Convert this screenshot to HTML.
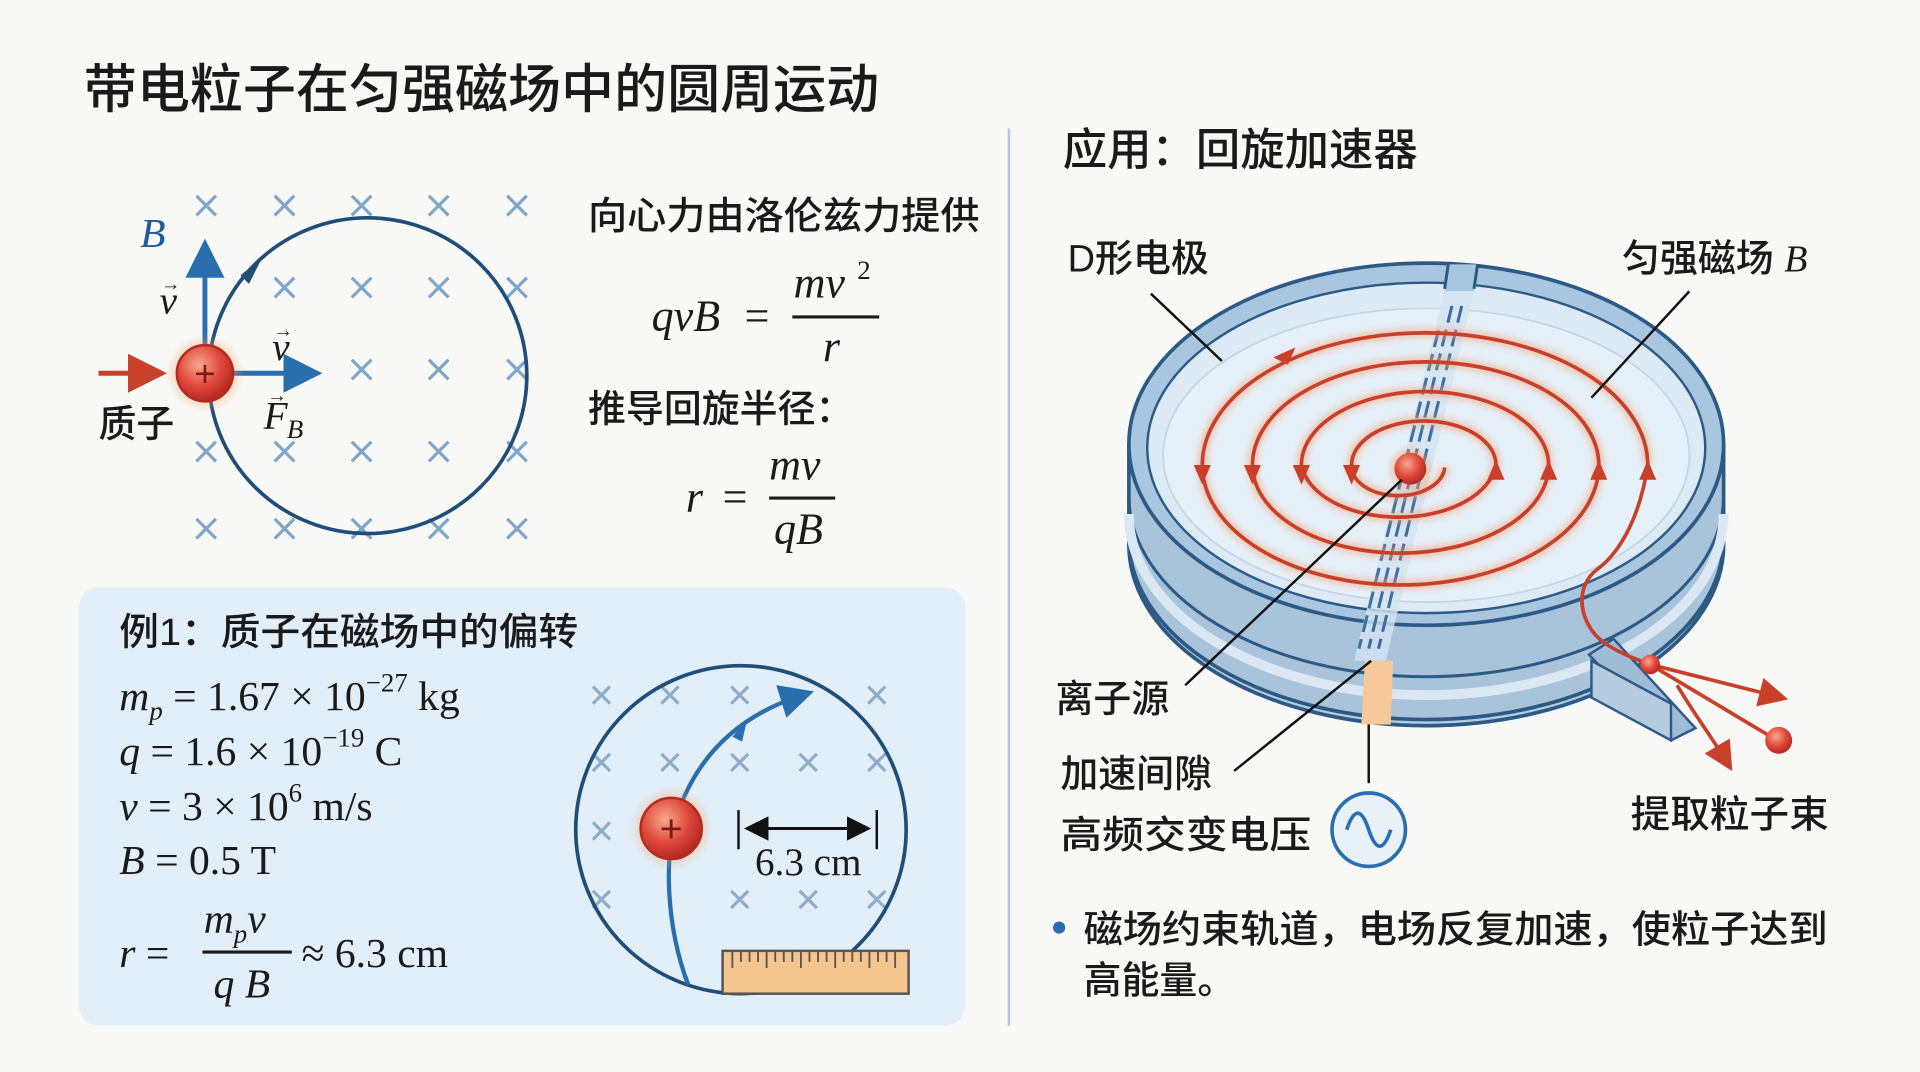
<!DOCTYPE html>
<html><head><meta charset="utf-8"><style>
html,body{margin:0;padding:0;background:#f8f8f7;}
svg{display:block;}
.cn{font-family:"Liberation Sans","Noto Sans CJK SC",sans-serif;fill:#1a1a1a;font-weight:500;}
.m{font-family:"Liberation Serif","DejaVu Serif",serif;fill:#1a1a1a;}
.i{font-style:italic;}
</style></head><body>
<svg width="1920" height="1072" viewBox="0 0 1568 876" xmlns="http://www.w3.org/2000/svg">
<defs>
<radialGradient id="pg" cx="40%" cy="35%" r="65%"><stop offset="0" stop-color="#f7a88e"/><stop offset="0.6" stop-color="#e0473a"/><stop offset="1" stop-color="#b42a22"/></radialGradient>
<radialGradient id="glow"><stop offset="0.5" stop-color="#f6a15c" stop-opacity="0.6"/><stop offset="1" stop-color="#f6a15c" stop-opacity="0"/></radialGradient>
<filter id="gl" x="-20%" y="-20%" width="140%" height="140%"><feGaussianBlur stdDeviation="2.5"/></filter>
<marker id="ab" markerWidth="8" markerHeight="8" refX="6" refY="4" orient="auto" markerUnits="strokeWidth"><path d="M0,0 L8,4 L0,8 Z" fill="#2a6fad"/></marker>
<marker id="ar" markerWidth="8" markerHeight="8" refX="6" refY="4" orient="auto" markerUnits="strokeWidth"><path d="M0,0 L8,4 L0,8 Z" fill="#c8402a"/></marker>
<marker id="ak" markerWidth="8" markerHeight="8" refX="7" refY="4" orient="auto" markerUnits="strokeWidth"><path d="M0,0 L8,4 L0,8 Z" fill="#111"/></marker>
<marker id="aks" markerWidth="8" markerHeight="8" refX="1" refY="4" orient="auto" markerUnits="strokeWidth"><path d="M8,0 L0,4 L8,8 Z" fill="#111"/></marker>
</defs>
<rect width="1568" height="876" fill="#f8f8f7"/>
<text x="68" y="88" class="cn" font-size="43" font-weight="700" textLength="650" lengthAdjust="spacingAndGlyphs">带电粒子在匀强磁场中的圆周运动</text>
<line x1="824" y1="105" x2="824" y2="838" stroke="#b8c8d8" stroke-width="2"/>

<!-- left diagram crosses -->
<g stroke="#7fa5c8" stroke-width="2.6">
<path d="M160,160l16,16m0,-16l-16,16 M224,160l16,16m0,-16l-16,16 M287,160l16,16m0,-16l-16,16 M350,160l16,16m0,-16l-16,16 M414,160l16,16m0,-16l-16,16"/>
<path d="M224,227l16,16m0,-16l-16,16 M287,227l16,16m0,-16l-16,16 M350,227l16,16m0,-16l-16,16 M414,227l16,16m0,-16l-16,16"/>
<path d="M287,294l16,16m0,-16l-16,16 M350,294l16,16m0,-16l-16,16 M414,294l16,16m0,-16l-16,16"/>
<path d="M160,361l16,16m0,-16l-16,16 M224,361l16,16m0,-16l-16,16 M287,361l16,16m0,-16l-16,16 M350,361l16,16m0,-16l-16,16 M414,361l16,16m0,-16l-16,16"/>
<path d="M160,424l16,16m0,-16l-16,16 M224,424l16,16m0,-16l-16,16 M287,424l16,16m0,-16l-16,16 M350,424l16,16m0,-16l-16,16 M414,424l16,16m0,-16l-16,16"/>
</g>
<ellipse cx="300" cy="307" rx="130" ry="129" fill="none" stroke="#1f4e79" stroke-width="3"/>
<path d="M196,225 L214,210 L203,232 Z" fill="#1f4e79"/>
<line x1="80" y1="305" x2="128" y2="305" stroke="#c8402a" stroke-width="4" marker-end="url(#ar)"/>
<line x1="167" y1="283" x2="167" y2="203" stroke="#2a6fad" stroke-width="4" marker-end="url(#ab)"/>
<line x1="190" y1="305" x2="255" y2="305" stroke="#2a6fad" stroke-width="4" marker-end="url(#ab)"/>
<circle cx="167" cy="305" r="32" fill="url(#glow)"/>
<circle cx="167" cy="305" r="23" fill="url(#pg)" stroke="#b42a22" stroke-width="2"/>
<text x="167" y="316" text-anchor="middle" font-size="30" fill="#7a1a12" font-family="Liberation Sans,sans-serif">+</text>
<text x="114" y="202" class="m i" font-size="34" style="fill:#1f5a96">B</text>
<text x="130" y="256" class="m i" font-size="32">v</text><text x="131" y="237" class="m" font-size="16">→</text>
<text x="222" y="294" class="m i" font-size="32">v</text><text x="223" y="275" class="m" font-size="16">→</text>
<text x="215" y="350" class="m i" font-size="32">F</text><text x="234" y="358" class="m i" font-size="22">B</text><text x="218" y="328" class="m" font-size="16">→</text>
<text x="80" y="357" class="cn" font-size="31">质子</text>

<text x="480" y="187" class="cn" font-size="31" textLength="320" lengthAdjust="spacingAndGlyphs">向心力由洛伦兹力提供</text>
<text x="532" y="270" class="m i" font-size="36">qvB</text><text x="608" y="270" class="m" font-size="36">=</text>
<text x="648" y="243" class="m i" font-size="36">mv</text><text x="700" y="228" class="m" font-size="22">2</text>
<line x1="647" y1="259" x2="718" y2="259" stroke="#1a1a1a" stroke-width="2.5"/>
<text x="672" y="295" class="m i" font-size="36">r</text>
<text x="480" y="345" class="cn" font-size="31">推导回旋半径：</text>
<text x="560" y="418" class="m i" font-size="36">r</text><text x="590" y="418" class="m" font-size="36">=</text>
<text x="628" y="392" class="m i" font-size="36">mv</text>
<line x1="628" y1="407" x2="682" y2="407" stroke="#1a1a1a" stroke-width="2.5"/>
<text x="632" y="444" class="m i" font-size="36">qB</text>

<!-- example box -->
<rect x="64" y="480" width="724" height="358" rx="16" fill="#e2eef8"/>
<text x="97" y="527" class="cn" font-size="31" textLength="375" lengthAdjust="spacingAndGlyphs">例1：质子在磁场中的偏转</text>
<g class="m" font-size="34">
<text x="97" y="580"><tspan class="i">m</tspan><tspan font-size="22" dy="8" class="i">p</tspan><tspan dy="-8"> = 1.67 × 10</tspan><tspan font-size="22" dy="-15">−27</tspan><tspan dy="15"> kg</tspan></text>
<text x="97" y="625"><tspan class="i">q</tspan> = 1.6 × 10<tspan font-size="22" dy="-15">−19</tspan><tspan dy="15"> C</tspan></text>
<text x="97" y="670"><tspan class="i">v</tspan> = 3 × 10<tspan font-size="22" dy="-15">6</tspan><tspan dy="15"> m/s</tspan></text>
<text x="97" y="714"><tspan class="i">B</tspan> = 0.5 T</text>
<text x="97" y="790"><tspan class="i">r</tspan> =</text>
<text x="166" y="762"><tspan class="i">m</tspan><tspan font-size="22" dy="8" class="i">p</tspan><tspan dy="-8" class="i">v</tspan></text>
<text x="174" y="815" class="i">q B</text>
<text x="246" y="790">≈ 6.3 cm</text>
</g>
<line x1="165" y1="778" x2="238" y2="778" stroke="#1a1a1a" stroke-width="2.5"/>

<!-- small circle -->
<g stroke="#8fadc8" stroke-width="2.6">
<path d="M484,561l14,14m0,-14l-14,14 M540,561l14,14m0,-14l-14,14 M597,561l14,14m0,-14l-14,14 M709,561l14,14m0,-14l-14,14"/>
<path d="M484,616l14,14m0,-14l-14,14 M540,616l14,14m0,-14l-14,14 M597,616l14,14m0,-14l-14,14 M653,616l14,14m0,-14l-14,14 M709,616l14,14m0,-14l-14,14"/>
<path d="M484,672l14,14m0,-14l-14,14"/>
<path d="M484,728l14,14m0,-14l-14,14 M597,728l14,14m0,-14l-14,14 M653,728l14,14m0,-14l-14,14 M709,728l14,14m0,-14l-14,14"/>
</g>
<ellipse cx="605" cy="678" rx="135" ry="134" fill="none" stroke="#1f4e79" stroke-width="3"/>
<path d="M562,805 C545,760 540,700 555,660 C570,620 600,585 658,567" fill="none" stroke="#2a6fad" stroke-width="3.5" marker-end="url(#ab)"/>
<path d="M598,602 L610,588 L606,606 Z" fill="#2a6fad"/>
<circle cx="548" cy="677" r="34" fill="url(#glow)"/>
<circle cx="548" cy="677" r="25" fill="url(#pg)" stroke="#b42a22" stroke-width="2"/>
<text x="548" y="688" text-anchor="middle" font-size="32" fill="#7a1a12" font-family="Liberation Sans,sans-serif">+</text>
<line x1="603" y1="662" x2="603" y2="694" stroke="#111" stroke-width="2"/>
<line x1="716" y1="662" x2="716" y2="694" stroke="#111" stroke-width="2"/>
<line x1="610" y1="677" x2="709" y2="677" stroke="#111" stroke-width="2.5" marker-start="url(#aks)" marker-end="url(#ak)"/>
<text x="660" y="715" class="m" font-size="32" text-anchor="middle">6.3 cm</text>
<rect x="590" y="777" width="152" height="35" fill="#f5c590" stroke="#555" stroke-width="2"/>
<g stroke="#555" stroke-width="1.5">
<path d="M598,777v14M605,777v9M612,777v9M619,777v9M626,777v14M633,777v9M640,777v9M647,777v9M654,777v14M661,777v9M668,777v9M675,777v9M682,777v14M689,777v9M696,777v9M703,777v9M710,777v14M717,777v9M724,777v9M731,777v14"/>
</g>

<!-- right section -->
<text x="868" y="135" class="cn" font-size="36" font-weight="700" textLength="290" lengthAdjust="spacingAndGlyphs">应用：回旋加速器</text>
<text x="872" y="222" class="cn" font-size="31">D形电极</text>
<text x="1325" y="222" class="cn" font-size="31">匀强磁场 <tspan style="font-family:'Liberation Serif',serif;font-style:italic">B</tspan></text>

<!-- cyclotron -->
<ellipse cx="1165" cy="445" rx="243" ry="148" fill="#b5cce0" stroke="#2c5a85" stroke-width="3"/>
<path d="M922,363 L922,440 A243,148 0 0 0 1408,440 L1408,363 Z" fill="#a9c3db" stroke="#2c5a85" stroke-width="3"/>
<path d="M922,405 A243,148 0 0 0 1408,405" fill="none" stroke="#2c5a85" stroke-width="2.5"/>
<path d="M922,420 A243,148 0 0 0 1408,420" fill="none" stroke="#dbe8f3" stroke-width="8"/>
<ellipse cx="1165" cy="363" rx="243" ry="148" fill="#a9c6e0" stroke="#2c5a85" stroke-width="3"/>
<ellipse cx="1165" cy="366" rx="228" ry="135" fill="#ddeaf5" stroke="#2c5a85" stroke-width="2"/>
<ellipse cx="1165" cy="372" rx="215" ry="120" fill="#e6f0f8" stroke="#c5d5e3" stroke-width="1.5"/>
<!-- gap notch -->
<polygon points="1183,216 1207,216 1204,238 1180,238" fill="#a9c6e0"/>
<line x1="1183" y1="216" x2="1180" y2="236" stroke="#2c5a85" stroke-width="2.5"/>
<line x1="1207" y1="216" x2="1204" y2="236" stroke="#2c5a85" stroke-width="2.5"/>
<polygon points="1180,238 1204,238 1132,540 1106,540" fill="#d4e4f1" opacity="0.8"/>
<g stroke="#3b6fa3" stroke-width="2.5" stroke-dasharray="14,6">
<line x1="1186" y1="250" x2="1118" y2="530"/><line x1="1194" y1="250" x2="1126" y2="530"/><line x1="1175" y1="270" x2="1110" y2="530"/>
</g>
<polygon points="1115,540 1138,540 1136,592 1112,592" fill="#f6c89a"/>
<!-- extraction channel -->
<polygon points="1298,535 1318,522 1385,595 1365,605" fill="#9fbcd7" stroke="#2c5a85" stroke-width="2"/>
<polygon points="1300,540 1300,570 1365,605 1365,575" fill="#b5cce0" stroke="#2c5a85" stroke-width="2"/>
<!-- spiral -->
<g fill="none" stroke="#f3a27a" stroke-width="8" opacity="0.55" filter="url(#gl)">
<path d="M1346,380 A182,108 0 0 0 982,380 A162,98 0 0 0 1306,380 A141,84 0 0 0 1023,380 A121,72 0 0 0 1265,380 A101,60 0 0 0 1063,380 A80,48 0 0 0 1222,380 A59,36 0 0 0 1104,380 A38,24 0 0 0 1180,382"/>
</g>
<g fill="none" stroke="#c8402a" stroke-width="3">
<path d="M1346,380 A182,108 0 0 0 982,380 A162,98 0 0 0 1306,380 A141,84 0 0 0 1023,380 A121,72 0 0 0 1265,380 A101,60 0 0 0 1063,380 A80,48 0 0 0 1222,380 A59,36 0 0 0 1104,380 A38,24 0 0 0 1180,382"/>
<path d="M1346,380 C1340,420 1325,450 1305,465 C1285,480 1290,510 1310,525 C1325,535 1340,540 1348,543"/>
</g>
<g fill="#c8402a">
<path d="M975,380 l7,16 l7,-16 Z M1016,380 l7,16 l7,-16 Z M1056,380 l7,16 l7,-16 Z M1097,380 l7,16 l7,-16 Z"/>
<path d="M1215,392 l7,-16 l7,16 Z M1258,392 l7,-16 l7,16 Z M1299,392 l7,-16 l7,16 Z M1339,392 l7,-16 l7,16 Z"/>
<path d="M1040,292 l18,-8 l-6,14 Z"/>
</g>
<line x1="1348" y1="543" x2="1455" y2="570" stroke="#c8402a" stroke-width="3" marker-end="url(#ar)"/>
<line x1="1348" y1="543" x2="1450" y2="604" stroke="#c8402a" stroke-width="3"/>
<path d="M1370,560 C1385,585 1400,605 1412,625" fill="none" stroke="#c8402a" stroke-width="3" marker-end="url(#ar)"/>
<circle cx="1348" cy="543" r="8" fill="url(#pg)"/>
<circle cx="1453" cy="605" r="11" fill="url(#pg)"/>
<circle cx="1152" cy="383" r="20" fill="url(#glow)"/>
<circle cx="1152" cy="383" r="13" fill="url(#pg)"/>

<!-- leaders -->
<g stroke="#111" stroke-width="2">
<line x1="940" y1="240" x2="998" y2="295"/>
<line x1="1380" y1="238" x2="1300" y2="325"/>
<line x1="968" y1="560" x2="1145" y2="392"/>
<line x1="1008" y1="630" x2="1120" y2="540"/>
<line x1="1118" y1="592" x2="1118" y2="640"/>
</g>
<text x="862" y="582" class="cn" font-size="31">离子源</text>
<text x="866" y="643" class="cn" font-size="31">加速间隙</text>
<text x="866" y="693" class="cn" font-size="31" textLength="205" lengthAdjust="spacingAndGlyphs">高频交变电压</text>
<circle cx="1118" cy="678" r="30" fill="#e8f0f8" stroke="#2a6fad" stroke-width="3"/>
<path d="M1100,678 C1106,660 1112,660 1118,678 C1124,696 1130,696 1136,678" fill="none" stroke="#2a6fad" stroke-width="3"/>
<text x="1332" y="676" class="cn" font-size="31" textLength="162" lengthAdjust="spacingAndGlyphs">提取粒子束</text>
<circle cx="865" cy="758" r="5" fill="#2a6fad"/>
<text x="885" y="770" class="cn" font-size="31" textLength="608" lengthAdjust="spacingAndGlyphs">磁场约束轨道，电场反复加速，使粒子达到</text>
<text x="885" y="812" class="cn" font-size="31">高能量。</text>
</svg>
</body></html>
